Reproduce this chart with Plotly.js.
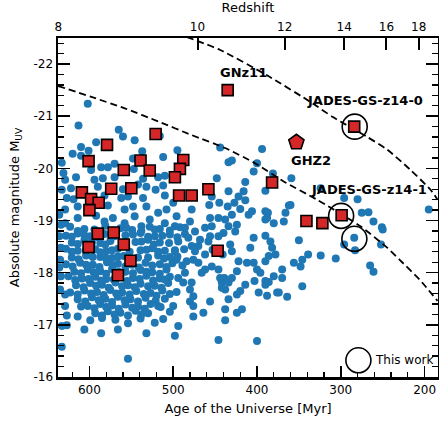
<!DOCTYPE html>
<html>
<head>
<meta charset="utf-8">
<script src="https://cdn.plot.ly/plotly-3.0.1.min.js"></script>
<style>html,body{margin:0;padding:0;background:#fff;}</style>
</head>
<body>
<div id="chart" style="width:439px;height:423px;"></div>
<script>
// ---- Data (age of the Universe [Myr], absolute magnitude M_UV) ----
const bluePoints = [
  [602,-21.24],[613,-20.82],[565,-20.74],[560,-20.61],[592,-20.50],[546,-20.54],[610,-20.41],[601,-20.34],[620,-20.28],[610,-20.24],
  [537,-20.33],[516,-20.62],[495,-20.35],[512,-20.22],[548,-20.19],[570,-20.09],[444,-20.40],[430,-20.15],[400,-20.10],[633,-20.11],
  [586,-20.02],[578,-20.02],[598,-19.97],[616,-19.83],[631,-19.91],[629,-19.78],[594,-19.78],[584,-19.81],[570,-19.83],[547,-19.99],
  [536,-19.80],[518,-19.83],[510,-19.86],[542,-19.69],[532,-19.65],[512,-19.67],[521,-19.59],[590,-19.65],[622,-19.62],[633,-19.59],[560,-19.60],
  [627,-19.43],[619,-19.41],[582,-19.48],[562,-19.43],[554,-19.46],[536,-19.43],[532,-19.27],[510,-19.48],[500,-19.34],[508,-19.21],
  [518,-19.15],[496,-19.08],[629,-19.21],[614,-19.27],[578,-19.29],[558,-19.21],[548,-19.27],[546,-19.08],[528,-19.02],[572,-19.05],
  [582,-18.98],[592,-19.09],[614,-19.05],[629,-18.95],[510,-18.95],[558,-18.95],[538,-18.89],[498,-18.89],
  [394,-20.37],[434,-20.12],[404,-19.94],[381,-19.90],[359,-19.81],[448,-19.81],[414,-19.74],[390,-19.57],[434,-19.56],[416,-19.56],
  [454,-19.46],[422,-19.46],[414,-19.39],[427,-19.34],[435,-19.27],[445,-19.34],[457,-19.30],[362,-19.29],[478,-19.21],[456,-19.05],
  [430,-19.11],[420,-19.22],[410,-19.11],[390,-19.18],[366,-19.15],[388,-19.05],[438,-19.02],[446,-19.05],[424,-18.92],[434,-18.89],
  [454,-18.89],[380,-18.95],[368,-18.98],[480,-18.98],
  [360,-19.30],[387,-19.15],[390,-19.02],[406,-19.18],[296,-19.43],[280,-19.41],[275,-19.15],[267,-19.16],[261,-18.98],[251,-18.87],
  [284,-18.67],[195,-19.21],[404,-18.67],[390,-18.71],[384,-18.60],[350,-18.62],[382,-18.48],[324,-19.62],
  [296,-18.54],[283,-18.43],[252,-18.54],[250,-18.83],[324,-18.33],[306,-18.27],[265,-18.14],[261,-18.02],[339,-18.35],[356,-18.19],
  [348,-18.12],[346,-17.74],[364,-17.54],[370,-18.06],[380,-17.93],[376,-17.62],[388,-17.56],[398,-17.62],[390,-17.84],[386,-17.82],[400,-16.69],
  [478,-18.51],[470,-18.51],[458,-18.60],[456,-18.70],[446,-18.70],[440,-18.76],[426,-18.79],[432,-18.54],[430,-18.41],[422,-18.22],
  [412,-18.19],[424,-18.03],[408,-18.48],[386,-18.32],[378,-18.35],[390,-18.22],[404,-18.19],[400,-18.06],[396,-18.00],[403,-17.84],
  [414,-17.77],[420,-17.65],[424,-17.58],[434,-17.49],[438,-17.68],[442,-17.81],[434,-17.81],[439,-17.90],[430,-17.90],[444,-17.90],
  [442,-17.71],[446,-18.06],[462,-18.06],[470,-18.19],[476,-18.25],[484,-18.22],[466,-18.00],[454,-18.12],[478,-17.81],[480,-17.68],
  [476,-17.55],[480,-17.45],[456,-17.45],[476,-17.36],[464,-17.23],[476,-17.16],[438,-17.30],[438,-17.09],[424,-17.23],[418,-17.30],
  [390,-17.77],[374,-17.62],[370,-17.90],[346,-18.25],[446,-16.71],[486,-18.00],
  [498,-18.41],[496,-18.25],[494,-17.90],[488,-17.81],[500,-17.36],[518,-17.36],[512,-17.11],[522,-17.04],[532,-16.84],[554,-17.03],
  [566,-16.91],[586,-16.84],[606,-16.91],[614,-17.16],[610,-17.35],[629,-17.58],[629,-17.36],[627,-17.18],[633,-16.58],[554,-16.35],
  [494,-16.98],[498,-16.79],[633,-16.98],[627,-16.99],
  [636,-19.11],[634,-18.92],[636,-18.70],[634,-18.48],[635,-18.25],[636,-18.10],[634,-17.93],[635,-17.68],
  [623,-18.88],[606,-18.84],[581,-18.90],[563,-18.85],[549,-18.82],[528,-18.88],[516,-18.84],[492,-18.87],
  [628,-18.71],[614,-18.75],[599,-18.70],[582,-18.74],[557,-18.72],[539,-18.76],[522,-18.70],[504,-18.73],[486,-18.74],
  [621,-18.58],[606,-18.62],[587,-18.57],[575,-18.61],[545,-18.59],[530,-18.63],[516,-18.58],[494,-18.60],
  [628,-18.46],[614,-18.42],[593,-18.45],[580,-18.41],[566,-18.46],[539,-18.43],[525,-18.47],[510,-18.42],[487,-18.45],
  [621,-18.29],[604,-18.33],[587,-18.30],[573,-18.28],[559,-18.32],[542,-18.29],[518,-18.33],[504,-18.30],
  [628,-18.16],[611,-18.19],[596,-18.15],[579,-18.20],[566,-18.17],[549,-18.15],[533,-18.19],[516,-18.16],[501,-18.18],[489,-18.14],
  [618,-18.02],[602,-18.06],[587,-18.03],[573,-18.07],[557,-18.02],[539,-18.05],[525,-18.01],[508,-18.06],
  [625,-17.93],[609,-17.89],[593,-17.92],[580,-17.88],[563,-17.93],[548,-17.90],[532,-17.94],[516,-17.89],[504,-17.92],
  [616,-17.76],[599,-17.80],[585,-17.77],[569,-17.81],[554,-17.76],[539,-17.79],[522,-17.75],[506,-17.80],
  [623,-17.62],[606,-17.66],[591,-17.63],[575,-17.67],[561,-17.62],[544,-17.65],[527,-17.61],[513,-17.66],[496,-17.63],
  [614,-17.49],[597,-17.53],[581,-17.50],[566,-17.54],[551,-17.49],[533,-17.52],[510,-17.50],
  [602,-17.36],[587,-17.40],[573,-17.37],[557,-17.39],[542,-17.35],[527,-17.40],
  [593,-17.22],[578,-17.26],[563,-17.23],[545,-17.27],[530,-17.22],[504,-17.25],
  [599,-17.09],[585,-17.13],[569,-17.10],[539,-17.12],
  [486,-18.86],[474,-18.79],[462,-18.86],[468,-18.63],[482,-18.67],[453,-18.44],[441,-18.35],[462,-18.35],[474,-18.41],
  [614,-18.80],[594,-18.83],[572,-18.81],[556,-18.86],[538,-18.80],[522,-18.83],[504,-18.81],
  [621,-18.69],[606,-18.72],[590,-18.68],[570,-18.70],[548,-18.73],[530,-18.69],[513,-18.71],[495,-18.68],
  [614,-18.55],[597,-18.58],[581,-18.54],[560,-18.56],[538,-18.60],[523,-18.54],[505,-18.57],
  [621,-18.40],[604,-18.44],[587,-18.39],[573,-18.43],[552,-18.40],[532,-18.44],[518,-18.40],[498,-18.43],
  [613,-18.26],[596,-18.30],[580,-18.27],[566,-18.31],[550,-18.26],[530,-18.29],[511,-18.27],[495,-18.31],
  [620,-18.12],[604,-18.15],[588,-18.11],[572,-18.14],[557,-18.12],[541,-18.10],[525,-18.14],[508,-18.11],
  [610,-17.99],[595,-18.01],[580,-17.98],[565,-18.02],[548,-17.99],[532,-18.02],[516,-17.98],
  [617,-17.86],[601,-17.88],[586,-17.85],[571,-17.87],[555,-17.84],[540,-17.88],[524,-17.85],[510,-17.87],
  [607,-17.72],[592,-17.75],[577,-17.71],[561,-17.74],[546,-17.72],[530,-17.74],[514,-17.71],
  [614,-17.58],[598,-17.60],[583,-17.57],[568,-17.60],[552,-17.58],[535,-17.59],[520,-17.56],[504,-17.59],
  [605,-17.45],[589,-17.47],[573,-17.44],[558,-17.47],[542,-17.45],[521,-17.46],
  [594,-17.32],[580,-17.34],[565,-17.31],[549,-17.33],[534,-17.31],[515,-17.34],
  [585,-17.18],[570,-17.20],[554,-17.18],[538,-17.20]
];

const redAge = [521, 579, 601, 539, 528, 559, 488, 492, 498, 493, 478, 458, 550, 574, 609, 598, 589, 600, 590, 571, 601, 559, 551, 566, 447, 435, 382, 341, 322, 299, 284];
const redMag = [-20.66, -20.45, -20.14, -20.15, -19.96, -19.97, -20.16, -19.99, -19.83, -19.48, -19.48, -19.60, -19.62, -19.61, -19.54, -19.41, -19.34, -19.20, -18.75, -18.77, -18.49, -18.54, -18.23, -17.95, -18.42, -21.50, -19.73, -18.99, -18.95, -19.10, -20.80];

const ghz2Age = [353];
const ghz2Mag = [-20.50];

const thisWorkAge = [283.4, 299.6, 283.8];
const thisWorkMag = [-20.80, -19.09, -18.65];

const lineLowAge = [637.4, 597.6, 557.7, 517.9, 478.1, 438.2, 402.4, 368.2, 328.3, 276.6, 244.7, 230, 206.1, 184.6];
const lineLowMag = [-21.58, -21.37, -21.15, -20.90, -20.64, -20.39, -20.10, -19.75, -19.40, -18.89, -18.48, -18.25, -17.87, -17.46];
const lineHighAge = [484, 443.8, 386.5, 333.9, 310, 268.2, 244.7, 216.8, 192.9, 184.6];
const lineHighMag = [-22.52, -22.27, -21.77, -21.25, -20.99, -20.60, -20.36, -19.97, -19.59, -19.40];

const redshiftTickAge = [637, 471, 367, 296, 245.5, 207];
const redshiftTickText = ['8', '10', '12', '14', '16', '18'];
const magTickVals = [-22, -21, -20, -19, -18, -17, -16];
const magTickText = ['-22', '-21', '-20', '-19', '-18', '-17', '-16'];

const labelText = ['GNz11', 'JADES-GS-z14-0', 'GHZ2', 'JADES-GS-z14-1'];
// ---- end data ----

const FONT = 'DejaVu Sans';
const dashStyle = '7px,4px';

const traces = [
  {x: bluePoints.map(p => p[0]), y: bluePoints.map(p => p[1]), type: 'scatter', mode: 'markers',
   marker: {color: '#1f77b4', size: 8, line: {width: 0}}, hoverinfo: 'skip'},
  {x: lineLowAge, y: lineLowMag, type: 'scatter', mode: 'lines',
   line: {color: 'black', width: 1.8, dash: dashStyle, shape: 'spline', smoothing: 0.6}, hoverinfo: 'skip'},
  {x: lineHighAge, y: lineHighMag, type: 'scatter', mode: 'lines',
   line: {color: 'black', width: 1.8, dash: dashStyle, shape: 'spline', smoothing: 0.6}, hoverinfo: 'skip'},
  {x: redAge, y: redMag, type: 'scatter', mode: 'markers',
   marker: {symbol: 'square', color: '#d62728', size: 11, line: {color: 'black', width: 1.6}}, hoverinfo: 'skip'},
  {x: ghz2Age, y: ghz2Mag, type: 'scatter', mode: 'markers',
   marker: {symbol: 'pentagon', color: '#d62728', size: 16, line: {color: 'black', width: 1.6}}, hoverinfo: 'skip'},
  {x: thisWorkAge, y: thisWorkMag, type: 'scatter', mode: 'markers',
   marker: {symbol: 'circle-open', color: 'black', size: 25, line: {color: 'black', width: 1.6}}, hoverinfo: 'skip'},
  {x: [redshiftTickAge[0]], y: [-30], xaxis: 'x2', type: 'scatter', mode: 'markers', marker: {opacity: 0}, hoverinfo: 'skip'}
];

const layout = {
  width: 439, height: 423,
  margin: {l: 58, r: 1, t: 38, b: 46, pad: 0},
  paper_bgcolor: 'white', plot_bgcolor: 'white',
  showlegend: false,
  font: {family: FONT, color: 'black', size: 12},
  xaxis: {
    range: [637.5, 184], tickmode: 'linear', tick0: 0, dtick: 100,
    ticks: 'inside', ticklen: 11, tickwidth: 1.6, tickcolor: 'black',
    minor: {tickmode: 'linear', tick0: 0, dtick: 20, ticks: 'inside', ticklen: 5, tickwidth: 1.3, tickcolor: 'black', showgrid: false},
    showline: true, linecolor: 'black', linewidth: 2.5, mirror: false,
    showgrid: false, zeroline: false, tickfont: {size: 12, family: FONT},
    title: {text: 'Age of the Universe [Myr]', font: {size: 13, family: FONT}, standoff: 8}
  },
  xaxis2: {
    overlaying: 'x', side: 'top', anchor: 'y', range: [637.5, 184],
    tickmode: 'array', tickvals: redshiftTickAge, ticktext: redshiftTickText,
    ticks: 'inside', ticklen: 12, tickwidth: 2, tickcolor: 'black',
    showline: true, linecolor: 'black', linewidth: 2.5,
    showgrid: false, zeroline: false, tickfont: {size: 12, family: FONT},
    title: {text: 'Redshift', font: {size: 13, family: FONT}, standoff: 4}
  },
  yaxis: {
    range: [-16, -22.5], tickmode: 'array', tickvals: magTickVals, ticktext: magTickText,
    ticks: 'inside', ticklen: 12, tickwidth: 1.6, tickcolor: 'black',
    minor: {tickmode: 'linear', tick0: 0, dtick: 0.2, ticks: 'inside', ticklen: 6, tickwidth: 1.3, tickcolor: 'black', showgrid: false},
    showline: true, linecolor: 'black', linewidth: 2.5, mirror: 'ticks',
    showgrid: false, zeroline: false, tickfont: {size: 12, family: FONT},
    title: {text: 'Absolute magnitude M<sub>UV</sub>', font: {size: 13, family: FONT}, standoff: 11}
  },
  annotations: [
    {x: 416, y: -21.83, text: '<b>' + labelText[0] + '</b>', showarrow: false, font: {size: 13, family: FONT}},
    {x: 270.6, y: -21.31, text: '<b>' + labelText[1] + '</b>', showarrow: false, font: {size: 13, family: FONT}},
    {x: 335, y: -20.15, text: '<b>' + labelText[2] + '</b>', showarrow: false, font: {size: 13, family: FONT}},
    {x: 266.4, y: -19.59, text: '<b>' + labelText[3] + '</b>', showarrow: false, font: {size: 13, family: FONT}},
    {x: 261, y: -16.32, xanchor: 'left', text: 'This work', showarrow: false, font: {size: 12, family: FONT}}
  ],
  shapes: [
    {type: 'circle', xref: 'x', yref: 'y', xsizemode: 'pixel', ysizemode: 'pixel',
     xanchor: 279, yanchor: -16.32, x0: -12.5, x1: 12.5, y0: -12.5, y1: 12.5,
     line: {color: 'black', width: 1.6}}
  ]
};

Plotly.newPlot('chart', traces, layout, {staticPlot: true, displayModeBar: false});
</script>
</body>
</html>
